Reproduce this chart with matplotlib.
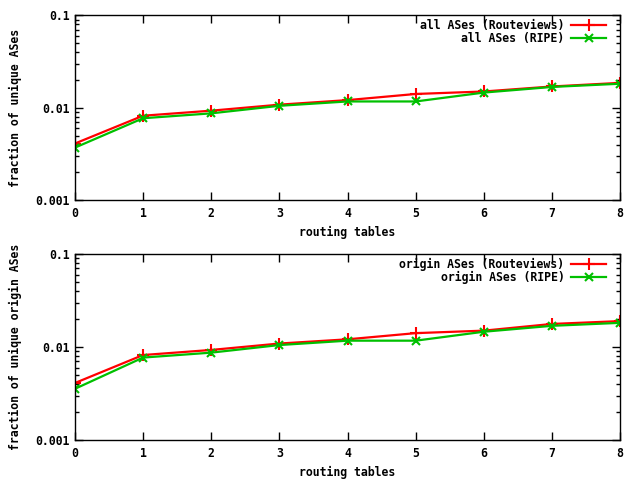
import matplotlib
matplotlib.use("Agg")
import matplotlib.pyplot as plt
from matplotlib.ticker import FixedLocator, FixedFormatter, LogLocator, NullFormatter

tables = [0, 1, 2, 3, 4, 5, 6, 7, 8]

# top panel: all ASes
all_routeviews = [0.0041, 0.0082, 0.0093, 0.0108, 0.0121, 0.0141, 0.0150, 0.0170, 0.0186]
all_ripe = [0.0037, 0.0077, 0.0087, 0.0105, 0.0117, 0.0117, 0.0146, 0.0168, 0.0182]

# bottom panel: origin ASes
origin_routeviews = [0.0041, 0.0082, 0.0093, 0.0109, 0.0121, 0.0141, 0.0150, 0.0177, 0.0190]
origin_ripe = [0.00355, 0.0077, 0.0087, 0.0105, 0.0117, 0.0117, 0.0146, 0.0169, 0.0182]

y_ticks = [0.001, 0.01, 0.1]
y_labels = ["0.001", "0.01", "0.1"]

plt.rcParams["font.family"] = "DejaVu Sans Mono"
plt.rcParams["font.weight"] = "bold"
plt.rcParams["font.size"] = 8.3

RED = "#ff0000"
GREEN = "#00c000"


def draw_panel(ax, rv, ripe, label_rv, label_ripe, ylabel):
    ax.plot(tables, rv, color=RED, marker="+", markersize=8, mew=1.5,
            linewidth=1.6, label=label_rv)
    ax.plot(tables, ripe, color=GREEN, marker="x", markersize=6, mew=1.5,
            linewidth=1.6, label=label_ripe)
    ax.set_yscale("log")
    ax.set_ylim(0.001, 0.1)
    ax.set_xlim(0, 8)
    ax.yaxis.set_major_locator(FixedLocator(y_ticks))
    ax.yaxis.set_major_formatter(FixedFormatter(y_labels))
    ax.yaxis.set_minor_locator(LogLocator(base=10, subs=range(2, 10)))
    ax.yaxis.set_minor_formatter(NullFormatter())
    ax.set_xticks(tables)
    ax.tick_params(which="both", direction="in", top=True, right=True)
    ax.tick_params(which="major", length=6, width=1)
    ax.tick_params(which="minor", length=3, width=1)
    ax.tick_params(axis="x", pad=5)
    ax.set_xlabel("routing tables", fontweight="bold", labelpad=4)
    ax.set_ylabel(ylabel, fontweight="bold", labelpad=10)
    ax.legend(loc="upper right", bbox_to_anchor=(0.974, 0.98),
              frameon=False, markerfirst=False, borderaxespad=0,
              borderpad=0, handlelength=3.0, labelspacing=0.0,
              handletextpad=0.6)
    for s in ax.spines.values():
        s.set_linewidth(1)


fig = plt.figure(figsize=(6.4, 4.8), dpi=100)
ax1 = fig.add_axes([0.117, 0.583, 0.852, 0.385])
ax2 = fig.add_axes([0.117, 0.0833, 0.852, 0.3875])

draw_panel(ax1, all_routeviews, all_ripe,
           "all ASes (Routeviews)", "all ASes (RIPE)",
           "fraction of unique ASes")
draw_panel(ax2, origin_routeviews, origin_ripe,
           "origin ASes (Routeviews)", "origin ASes (RIPE)",
           "fraction of unique origin ASes")

fig.savefig("out.png", dpi=100)
